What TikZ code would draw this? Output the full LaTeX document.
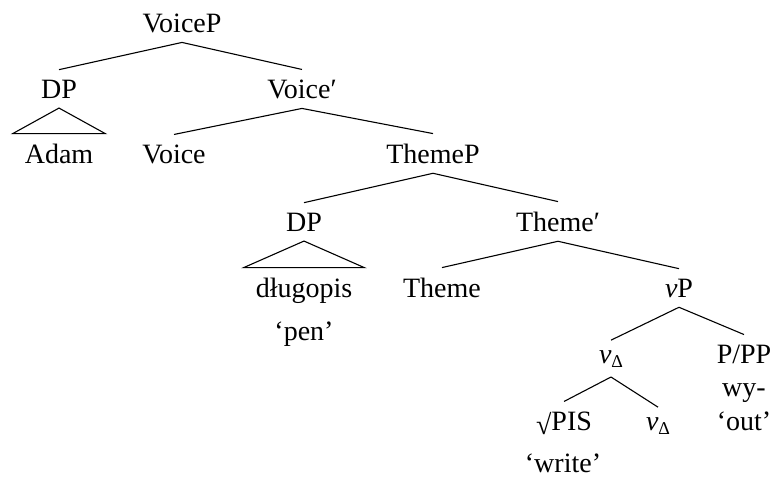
\documentclass[tikz,border=0pt]{standalone}
\usepackage{fontspec}
\setmainfont{Liberation Serif}
\newcommand{\vdelta}{\textit{v}\raisebox{-4pt}{\fontsize{18}{18}\selectfont Δ}}
\newcommand{\rootsign}{\raisebox{-4pt}{√}}
\begin{document}
\begin{tikzpicture}[x=1pt,y=-1pt,
  tn/.style={anchor=base, inner sep=0pt, outer xsep=0pt, outer ysep=10pt,
             font=\fontsize{28}{34}\selectfont},
  branch/.style={draw=black, line width=1.1pt},
  roof/.style={draw=black, line width=1.1pt, line join=miter}]
\useasboundingbox (0,0) rectangle (776,477);

% labels (positioned on their baselines)
\node[tn] (voicep) at (182,32) {VoiceP};
\node[tn] (dpa) at (59,98) {DP};
\node[tn] (voicebar) at (302,98) {Voice′};
\node[tn] (adam) at (59,163) {Adam};
\node[tn] (voice) at (174,163) {Voice};
\node[tn] (themep) at (433,163) {ThemeP};
\node[tn] (dpb) at (304,231) {DP};
\node[tn] (themebar) at (558,231) {Theme′};
\node[tn] (dlugopis) at (304,297) {długopis};
\node[tn] (pen) at (304,340) {`pen'};
\node[tn] (theme) at (442,297) {Theme};
\node[tn] (vp) at (679,297) {\textit{v}P};
\node[tn] (vd) at (611,363) {\vdelta};
\node[tn] (ppp) at (744,363) {P/PP};
\node[tn] (wy) at (744,396) {wy-};
\node[tn] (out) at (744,430) {`out'};
\node[tn] (root) at (564,430) {\rootsign PIS};
\node[tn] (vdb) at (658,430) {\vdelta};
\node[tn] (write) at (563,472) {`write'};

% branches
\draw[branch] (voicep.south) -- (dpa.north);
\draw[branch] (voicep.south) -- (voicebar.north);
\draw[branch] (voicebar.south) -- (voice.north);
\draw[branch] (voicebar.south) -- (themep.north);
\draw[branch] (themep.south) -- (dpb.north);
\draw[branch] (themep.south) -- (themebar.north);
\draw[branch] (themebar.south) -- (theme.north);
\draw[branch] (themebar.south) -- (vp.north);
\draw[branch] (vp.south) -- (vd.north);
\draw[branch] (vp.south) -- (ppp.north);
\draw[branch] (vd.south) -- (root.north);
\draw[branch] (vd.south) -- (vdb.north);

% roofs over unanalysed phrases
\draw[roof] (dpa.south) -- ([xshift=12pt]adam.north east) -- ([xshift=-12pt]adam.north west) -- cycle;
\draw[roof] (dpb.south) -- ([xshift=12pt]dlugopis.north east) -- ([xshift=-12pt]dlugopis.north west) -- cycle;
\end{tikzpicture}
\end{document}
